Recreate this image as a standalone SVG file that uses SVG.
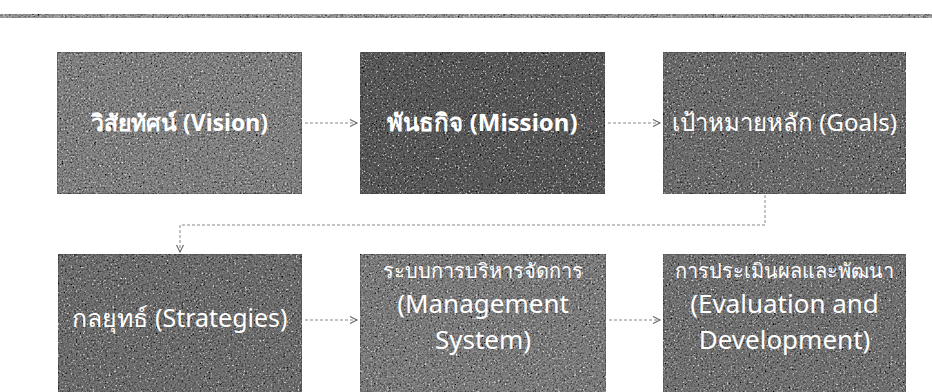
<svg xmlns="http://www.w3.org/2000/svg" width="932" height="392" viewBox="0 0 932 392">
  <defs>
    <filter id="grain" x="0" y="0" width="100%" height="100%">
      <feTurbulence type="fractalNoise" baseFrequency="0.55" numOctaves="3" seed="7" result="n"/>
      <feColorMatrix in="n" type="matrix" values="0 0 0 0 0  0 0 0 0 0  0 0 0 0 0  1.4 1.4 1.4 0 -1.95" result="dark"/>
      <feColorMatrix in="n" type="matrix" values="0 0 0 0 1  0 0 0 0 1  0 0 0 0 1  -1.4 -1.4 -1.4 0 1.75" result="light"/>
      <feComposite in="dark" in2="SourceGraphic" operator="in" result="d2"/>
      <feComposite in="light" in2="SourceGraphic" operator="in" result="l2"/>
      <feMerge><feMergeNode in="SourceGraphic"/><feMergeNode in="d2"/><feMergeNode in="l2"/></feMerge>
    </filter>
    <marker id="arr" markerWidth="10" markerHeight="10" refX="8" refY="5" orient="auto" markerUnits="userSpaceOnUse">
      <path d="M1,1.5 L8,5 L1,8.5" fill="none" stroke="#666" stroke-width="1.1"/>
    </marker>
  </defs>
  <style>
    .box { stroke: #555; stroke-width: 1; filter: url(#grain); }
    .lbl { fill: #ffffff; font-family: "Noto Sans", "DejaVu Sans", sans-serif; text-anchor: middle; }
    .b { font-weight: bold; }
    .conn { fill: none; stroke: #888; stroke-width: 1; stroke-dasharray: 3 2; }
  </style>
  <rect width="932" height="392" fill="#ffffff"/>
  <rect x="0" y="14" width="932" height="4" fill="#a0a0a0" filter="url(#grain)"/>

  <g id="vision">
    <rect class="box" x="57" y="52" width="245" height="142" fill="#8a8a8a"/>
    <text class="lbl b" x="179.5" y="131" font-size="23">วิสัยทัศน์ (Vision)</text>
  </g>
  <g id="mission">
    <rect class="box" x="360" y="52" width="245" height="142" fill="#606060"/>
    <text class="lbl b" x="482.5" y="131" font-size="24">พันธกิจ (Mission)</text>
  </g>
  <g id="goals">
    <rect class="box" x="663" y="52" width="243" height="142" fill="#747474"/>
    <text class="lbl" x="784.5" y="131" font-size="24">เป้าหมายหลัก (Goals)</text>
  </g>
  <g id="strategies">
    <rect class="box" x="58" y="254" width="244" height="146" fill="#767676"/>
    <text class="lbl" x="180" y="327" font-size="25">กลยุทธ์ (Strategies)</text>
  </g>
  <g id="management">
    <rect class="box" x="360" y="254" width="246" height="146" fill="#858585"/>
    <text class="lbl" x="483" y="278" font-size="20">ระบบการบริหารจัดการ</text>
    <text class="lbl" x="483" y="313" font-size="26">(Management</text>
    <text class="lbl" x="483" y="349" font-size="26">System)</text>
  </g>
  <g id="evaluation">
    <rect class="box" x="663" y="254" width="243" height="146" fill="#7a7a7a"/>
    <text class="lbl" x="784.5" y="278" font-size="20">การประเมินผลและพัฒนา</text>
    <text class="lbl" x="784.5" y="313" font-size="26">(Evaluation and</text>
    <text class="lbl" x="784.5" y="349" font-size="26">Development)</text>
  </g>

  <g id="connectors">
    <path class="conn" d="M305,123 H357" marker-end="url(#arr)"/>
    <path class="conn" d="M608,123 H660" marker-end="url(#arr)"/>
    <path class="conn" d="M765,195 V225 H180 V252" marker-end="url(#arr)"/>
    <path class="conn" d="M305,320 H357" marker-end="url(#arr)"/>
    <path class="conn" d="M609,320 H660" marker-end="url(#arr)"/>
  </g>
</svg>
